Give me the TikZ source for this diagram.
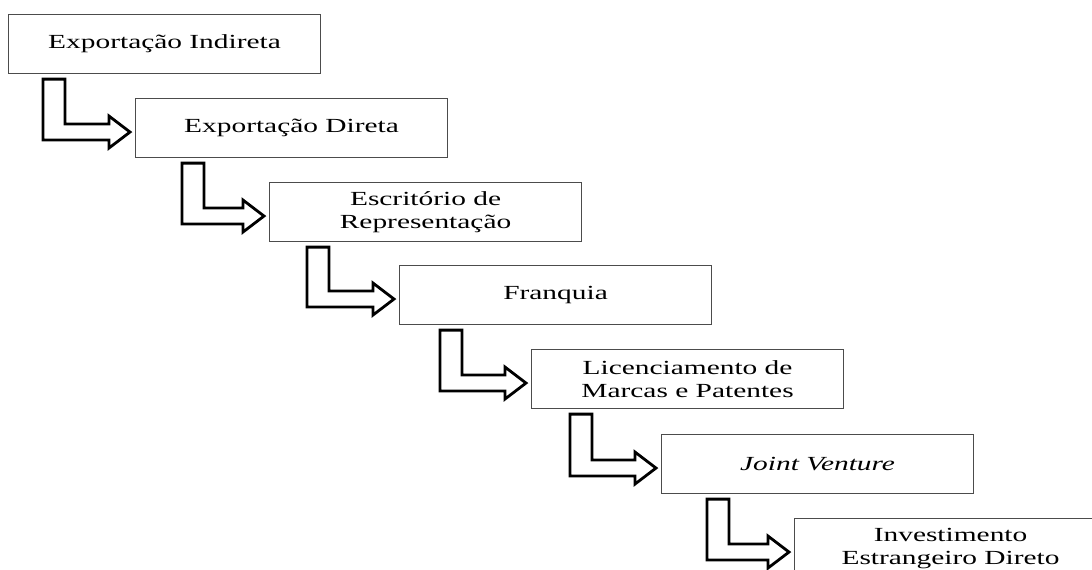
\documentclass[tikz,border=0pt]{standalone}
\usepackage{fontspec}
\setmainfont{Liberation Serif}[FakeStretch=1.47]
\usetikzlibrary{calc}
\tikzset{
  stage/.style={draw=black!70, line width=1.1pt, fill=white, minimum width=312pt, minimum height=59pt,
    inner sep=0pt, align=center, font=\fontsize{20}{23}\selectfont, anchor=north west},
  larrow/.style={draw=black, line width=2.8pt, fill=white, line join=miter},
}
% #1 from node, #2 to node, #3 x offset from left edge of #1
\newcommand\stepArrow[3]{%
  \path (#1.south west) ++(#3,5) coordinate (#1-a);
  \path (#2.west) ++(-5,4) coordinate (#1-t);
  \draw[larrow] let \p1=(#1-a), \p2=(#1-t) in
    (\x1,\y1) -- (\x1+22,\y1) -- (\x1+22,\y2+8) -- (\x2-21,\y2+8) -- (\x2-21,\y2+16)
    -- (\x2,\y2) -- (\x2-21,\y2-16) -- (\x2-21,\y2-8) -- (\x1,\y2-8) -- cycle;
}
\begin{document}
\begin{tikzpicture}[x=1pt,y=-1pt]
\useasboundingbox (0,0) rectangle (1092,570);
\node[stage] (b1) at (8,14) {Exportação Indireta};
\node[stage] (b2) at (135,98) {Exportação Direta};
\node[stage] (b3) at (269,182) {Escritório de\\Representação};
\node[stage] (b4) at (399,265) {Franquia};
\node[stage] (b5) at (531,349) {Licenciamento de\\Marcas e Patentes};
\node[stage] (b6) at (661,434) {\textit{Joint Venture}};
\node[stage] (b7) at (794,518) {Investimento\\Estrangeiro Direto};
\stepArrow{b1}{b2}{35}
\stepArrow{b2}{b3}{47}
\stepArrow{b3}{b4}{38}
\stepArrow{b4}{b5}{41}
\stepArrow{b5}{b6}{39}
\stepArrow{b6}{b7}{46}
\end{tikzpicture}
\end{document}
